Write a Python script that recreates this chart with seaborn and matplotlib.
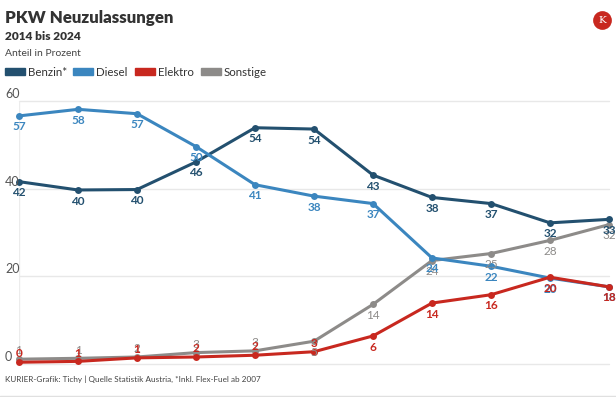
import pandas as pd
import matplotlib.pyplot as plt
import seaborn as sns
from matplotlib.patches import Rectangle
from matplotlib.lines import Line2D

# Daten (Anteil in Prozent)
jahre = [2014, 2015, 2016, 2017, 2018, 2019, 2020, 2021, 2022, 2023, 2024]
benzin = [41.6, 39.7, 39.8, 46.1, 53.9, 53.6, 43.1, 38.0, 36.6, 32.2, 33.0]
diesel = [56.6, 58.1, 57.1, 49.6, 40.9, 38.3, 36.6, 24.2, 22.3, 19.6, 17.6]
elektro = [0.4, 0.6, 1.4, 1.6, 2.0, 2.8, 6.4, 13.9, 15.8, 19.8, 17.6]
sonstige = [1.1, 1.3, 1.6, 2.6, 3.0, 5.2, 13.6, 23.6, 25.2, 28.2, 31.8]

serien = ["Benzin*", "Diesel", "Elektro", "Sonstige"]
farben = {"Benzin*": "#23506f", "Diesel": "#3b86bf",
          "Elektro": "#c8281f", "Sonstige": "#8d8b89"}

df = pd.concat([
    pd.DataFrame({"Jahr": jahre, "Anteil": werte, "Art": name})
    for name, werte in zip(serien, [benzin, diesel, elektro, sonstige])
])

sns.set_style("white")
plt.rcParams["font.family"] = ["Lato", "DejaVu Sans"]

fig = plt.figure(figsize=(6.16, 3.97), dpi=100)
ax = fig.add_axes([19 / 616, 33 / 397, 590 / 616, 263 / 397])

# Gitterlinien
for y in [0, 20, 40, 60]:
    ax.axhline(y, color="#e8e8e8", lw=1, zorder=0, clip_on=False)
    fig.text(5 / 616, (397 - 101 - (60 - y) * 263 / 60 + 1) / 397, str(y),
             fontsize=9, color="#555555", ha="left", va="bottom")
ax.axvline(2014, color="#ececec", lw=1, zorder=0)

reihenfolge = ["Sonstige", "Benzin*", "Diesel", "Elektro"]
for name in reihenfolge:
    sub = df[df["Art"] == name]
    sns.lineplot(data=sub, x="Jahr", y="Anteil", color=farben[name], ax=ax,
                 linewidth=2.2, marker="o", markersize=5, markeredgewidth=0,
                 legend=False, clip_on=False, zorder=3)
    gewicht = "normal" if name == "Sonstige" else "bold"
    for j, v in zip(sub["Jahr"], sub["Anteil"]):
        if v > 4:
            ax.annotate(f"{v:.0f}", (j, v), xytext=(0, -4), textcoords="offset points",
                        ha="center", va="top", fontsize=8.5, color=farben[name],
                        fontweight=gewicht, zorder=4)
        else:
            ax.annotate(f"{v:.0f}", (j, v), xytext=(0, 2), textcoords="offset points",
                        ha="center", va="bottom", fontsize=8.5, color=farben[name],
                        fontweight=gewicht, zorder=4)

ax.set_xlim(2014, 2024)
ax.set_ylim(0, 60)
ax.set_xticks([])
ax.set_yticks([])
ax.set_xlabel("")
ax.set_ylabel("")
sns.despine(ax=ax, left=True, bottom=True)

# Titel
fig.text(5 / 616, 1 - 18 / 397, "PKW Neuzulassungen", fontsize=12.2, fontweight="heavy",
         color="#333333", va="center")
fig.text(5 / 616, 1 - 37 / 397, "2014 bis 2024", fontsize=8.6, fontweight="heavy",
         color="#333333", va="center")
fig.text(5 / 616, 1 - 54 / 397, "Anteil in Prozent", fontsize=7.5,
         color="#444444", va="center")

# Legende
leg_x = [5, 73, 135, 201]
for x0, name in zip(leg_x, serien):
    fig.patches.append(Rectangle((x0 / 616, 1 - 75 / 397), 20 / 616, 7 / 397,
                                 transform=fig.transFigure, color=farben[name]))
    fig.text((x0 + 23) / 616, 1 - 72 / 397, name, fontsize=8.3, color="#333333",
             va="center")

# Logo
fig.add_artist(Line2D([602 / 616], [1 - 20 / 397], marker="o", markersize=13.5,
                      color="#c8281f", markeredgewidth=0, transform=fig.transFigure))
fig.text(602 / 616, 1 - 20.5 / 397, "K", fontsize=7.5, color="white", ha="center",
         va="center", family="DejaVu Serif")

# Fußzeile
fig.text(5 / 616, 1 - 379 / 397,
         "KURIER-Grafik: Tichy | Quelle Statistik Austria, *Inkl. Flex-Fuel ab 2007",
         fontsize=5.9, color="#444444", va="center")
fig.add_artist(Line2D([0, 1], [1 / 397, 1 / 397], color="#e0e0e0", lw=1,
                      transform=fig.transFigure))

fig.savefig("out.png", dpi=100)
